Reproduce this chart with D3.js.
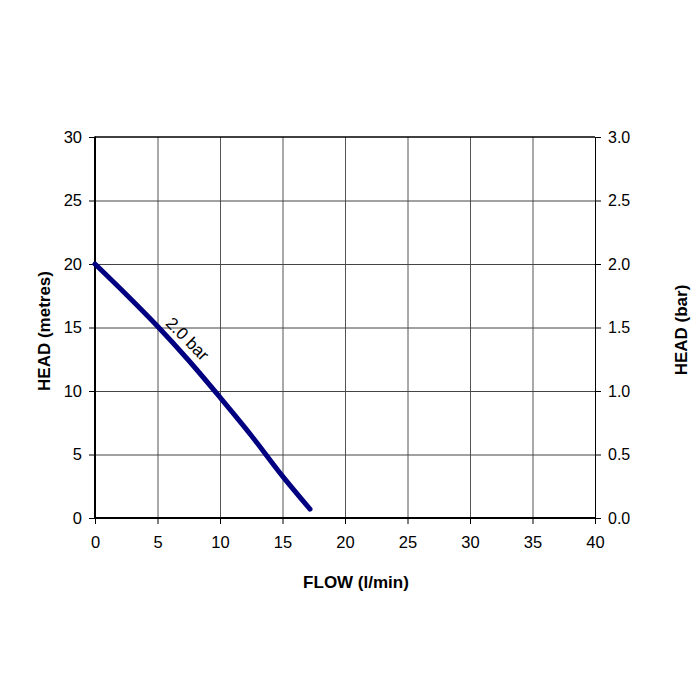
<!DOCTYPE html>
<html><head><meta charset="utf-8">
<script src="https://cdn.jsdelivr.net/npm/d3@7"></script>
<style>body{margin:0;background:#fff}svg{display:block}text{font-family:"Liberation Sans",Arial,sans-serif}</style>
</head><body><svg id="c" width="700" height="700"></svg>
<script>
const flow = [0, 2.5, 5, 7.5, 10, 12.5, 15, 17.2];
const head = [20, 17.6, 15.1, 12.4, 9.5, 6.5, 3.3, 0.7];
const xTicks = [0,5,10,15,20,25,30,35,40];
const yTicks = [0,5,10,15,20,25,30];
const yBarTicks = [0,0.5,1.0,1.5,2.0,2.5,3.0];
const curveLabel = "2.0 bar";

const svg = d3.select("#c");
const L=95,R=595,T=137,B=518;
const x = d3.scaleLinear().domain([0,40]).range([L,R]);
const y = d3.scaleLinear().domain([0,30]).range([B,T]);
const y2 = d3.scaleLinear().domain([0,3]).range([B,T]);

// grid
svg.append("g").selectAll("line").data(xTicks.slice(1,-1)).join("line")
  .attr("x1",d=>x(d)+0.5).attr("x2",d=>x(d)+0.5).attr("y1",T).attr("y2",B)
  .attr("stroke","#555").attr("stroke-width",1);
svg.append("g").selectAll("line").data(yTicks.slice(1,-1)).join("line")
  .attr("y1",d=>y(d)+0.5).attr("y2",d=>y(d)+0.5).attr("x1",L).attr("x2",R)
  .attr("stroke","#444").attr("stroke-width",1);

// axes
const fmt1 = d3.format(".1f");
const gl = svg.append("g").attr("transform",`translate(${L},0)`)
  .call(d3.axisLeft(y).tickValues(yTicks).tickSize(6).tickPadding(7));
const gr = svg.append("g").attr("transform",`translate(${R},0)`)
  .call(d3.axisRight(y2).tickValues(yBarTicks).tickFormat(fmt1).tickSize(6).tickPadding(7));
const gb = svg.append("g").attr("transform",`translate(0,${B})`)
  .call(d3.axisBottom(x).tickValues(xTicks).tickSize(6).tickPadding(12));
[gl,gr,gb].forEach(g=>{
  g.selectAll("text").attr("font-size",16.5).attr("fill","#000").attr("font-family","Liberation Sans, Arial, sans-serif");
  g.selectAll("line").attr("stroke","#000");
  g.select(".domain").attr("stroke","none");
});
gr.selectAll("text").attr("font-size",16);
svg.append("line").attr("x1",L).attr("x2",L).attr("y1",T-0.5).attr("y2",B+1).attr("stroke","#000").attr("stroke-width",2);
svg.append("line").attr("x1",L-1).attr("x2",R).attr("y1",B).attr("y2",B).attr("stroke","#000").attr("stroke-width",2);
svg.append("line").attr("x1",L).attr("x2",R).attr("y1",T).attr("y2",T).attr("stroke","#000").attr("stroke-width",1.5);
svg.append("line").attr("x1",R+0.5).attr("x2",R+0.5).attr("y1",T).attr("y2",B).attr("stroke","#000").attr("stroke-width",1);

// curve
const pts = flow.map((f,i)=>[f,head[i]]);
svg.append("path").datum(pts)
  .attr("d",d3.line().x(d=>x(d[0])).y(d=>y(d[1])).curve(d3.curveMonotoneX))
  .attr("fill","none").attr("stroke","#000080").attr("stroke-width",5).attr("stroke-linecap","round");

svg.append("text").attr("transform",`translate(${x(5.25)+4},${y(15.1)-2}) rotate(45)`)
  .attr("font-size",17).attr("fill","#000").text(curveLabel);

// titles
svg.append("text").attr("transform",`translate(50,331) rotate(-90)`).attr("text-anchor","middle")
  .attr("font-size",17).attr("font-weight","bold").text("HEAD (metres)");
svg.append("text").attr("transform",`translate(687,330) rotate(-90)`).attr("text-anchor","middle")
  .attr("font-size",17).attr("font-weight","bold").text("HEAD (bar)");
svg.append("text").attr("x",356).attr("y",588).attr("text-anchor","middle")
  .attr("font-size",17).attr("font-weight","bold").text("FLOW (l/min)");
</script></body></html>
